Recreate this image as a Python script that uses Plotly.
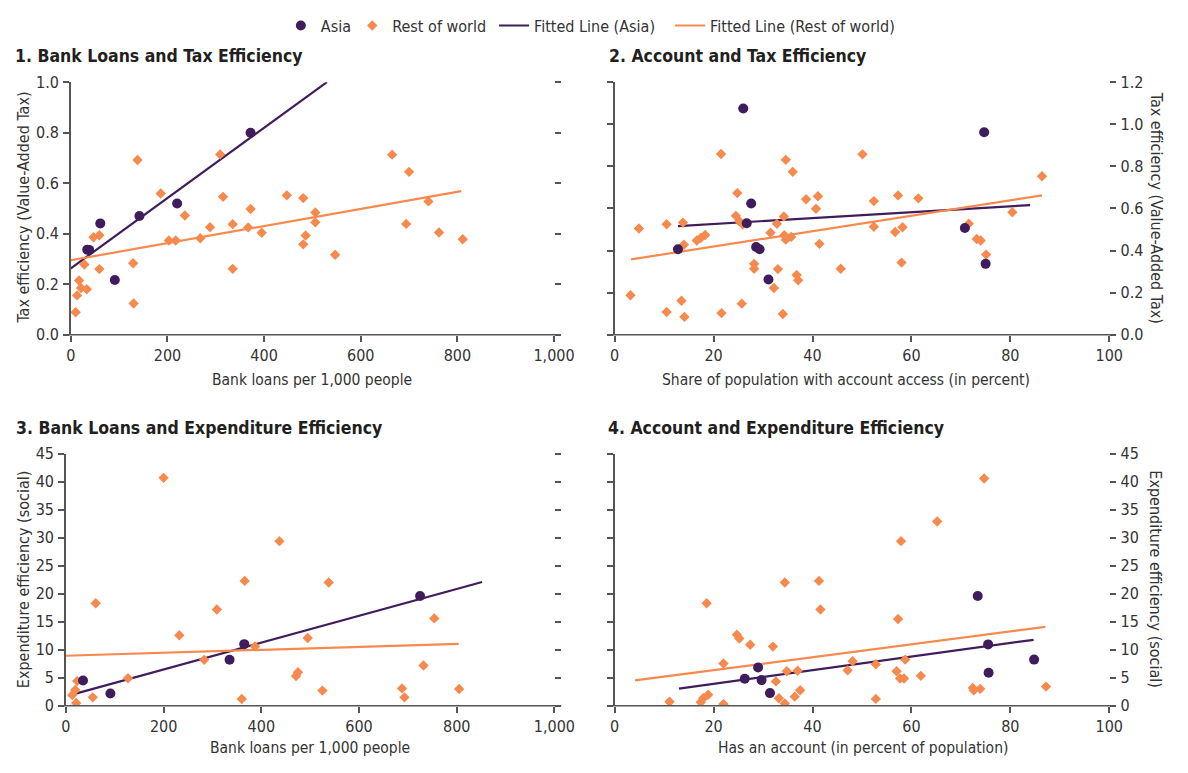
import plotly.graph_objects as go

W, H = 1188, 773
PURPLE = "#3f1d5c"
ORANGE = "#f68a4e"
AXIS = "#555555"
TEXT = "#231f20"
FONT = "Liberation Sans Narrow, DejaVu Sans Condensed, Roboto, sans-serif"

# ---- 1. Bank loans vs tax efficiency ----
p1_asia_x = [34, 38, 61, 142, 91, 220, 372]
p1_asia_y = [0.337, 0.336, 0.441, 0.470, 0.217, 0.520, 0.800]
p1_row_x = [10, 13, 17, 21, 28, 33, 47, 59, 59, 129, 130, 138, 186, 236, 203, 217,
            268, 288, 309, 315, 335, 335, 367, 372, 395, 447, 481, 481, 486, 506,
            506, 547, 665, 700, 740, 694, 762, 811]
p1_row_y = [0.089, 0.156, 0.215, 0.185, 0.278, 0.180, 0.386, 0.394, 0.260, 0.283,
            0.124, 0.692, 0.559, 0.472, 0.373, 0.373, 0.382, 0.426, 0.714, 0.546,
            0.438, 0.261, 0.425, 0.498, 0.404, 0.552, 0.541, 0.358, 0.393, 0.484,
            0.445, 0.317, 0.713, 0.645, 0.528, 0.439, 0.405, 0.378]
p1_fit_asia_x = [0, 530]
p1_fit_asia_y = [0.263, 1.0]
p1_fit_row_x = [0, 808]
p1_fit_row_y = [0.295, 0.569]

# ---- 2. Account access vs tax efficiency ----
p2_asia_x = [26.0, 27.6, 26.7, 12.8, 28.6, 29.3, 31.1, 74.7, 70.8, 75.0]
p2_asia_y = [1.075, 0.624, 0.530, 0.406, 0.417, 0.406, 0.263, 0.962, 0.507, 0.337]
p2_row_x = [3.2, 4.9, 10.5, 10.5, 13.5, 13.8, 14.0, 14.1, 16.6, 17.4, 18.3, 21.5,
            21.6, 24.8, 24.5, 25.2, 25.9, 25.7, 28.2, 28.2, 31.5, 32.2, 32.8, 33.0,
            34.0, 34.2, 34.3, 34.6, 34.6, 35.7, 36.0, 36.8, 37.1, 38.7, 40.7, 41.1,
            41.4, 45.7, 50.1, 52.4, 52.4, 57.3, 56.7, 58.2, 58.0, 61.4, 71.6, 73.2,
            74.0, 75.1, 80.4, 86.4]
p2_row_y = [0.188, 0.505, 0.525, 0.108, 0.162, 0.533, 0.428, 0.085, 0.448, 0.460,
            0.474, 0.859, 0.103, 0.673, 0.565, 0.539, 0.525, 0.148, 0.337, 0.314,
            0.485, 0.222, 0.527, 0.312, 0.099, 0.562, 0.473, 0.452, 0.831, 0.465,
            0.774, 0.284, 0.259, 0.644, 0.599, 0.658, 0.432, 0.314, 0.857, 0.635,
            0.513, 0.662, 0.488, 0.511, 0.343, 0.648, 0.528, 0.455, 0.448, 0.381,
            0.582, 0.753]
p2_fit_asia_x = [12.8, 84.0]
p2_fit_asia_y = [0.516, 0.616]
p2_fit_row_x = [3.3, 86.4]
p2_fit_row_y = [0.358, 0.662]

# ---- 3. Bank loans vs expenditure efficiency ----
p3_asia_x = [35, 91, 335, 365, 725]
p3_asia_y = [4.5, 2.2, 8.2, 11.0, 19.6]
p3_row_x = [13, 19, 21, 23, 55, 61, 127, 200, 232, 283, 309, 360, 366, 387, 437,
            471, 475, 495, 538, 525, 688, 693, 732, 754, 805]
p3_row_y = [1.9, 2.8, 0.5, 4.4, 1.5, 18.3, 4.9, 40.7, 12.6, 8.2, 17.2, 1.2, 22.3,
            10.6, 29.4, 5.3, 6.0, 12.1, 22.0, 2.7, 3.1, 1.5, 7.2, 15.6, 3.0]
p3_fit_asia_x = [5, 852]
p3_fit_asia_y = [1.8, 22.1]
p3_fit_row_x = [0, 804]
p3_fit_row_y = [8.93, 11.06]

# ---- 4. Account ownership vs expenditure efficiency ----
p4_asia_x = [29.0, 26.3, 29.7, 31.4, 73.4, 75.5, 75.6, 84.8]
p4_asia_y = [6.84, 4.81, 4.58, 2.26, 19.6, 10.96, 5.9, 8.24]
p4_row_x = [11.1, 17.4, 17.9, 18.9, 18.6, 22.0, 22.0, 24.7, 25.2, 27.4, 32.0, 32.6,
            33.2, 34.4, 34.4, 34.8, 36.4, 37.0, 37.5, 41.3, 41.6, 47.1, 48.1, 52.8,
            52.8, 74.7, 65.2, 57.9, 57.3, 58.75, 57.0, 57.7, 58.5, 61.9, 72.4, 72.6,
            73.9, 87.2]
p4_row_y = [0.7, 0.64, 1.33, 1.97, 18.3, 0.29, 7.54, 12.7, 12.0, 10.9, 10.56, 4.35,
            1.33, 22.0, 0.41, 6.15, 1.62, 6.26, 2.78, 22.3, 17.2, 6.32, 7.95, 7.42,
            1.22, 40.6, 32.9, 29.4, 15.5, 8.24, 6.15, 4.87, 4.87, 5.34, 3.19, 2.78,
            3.02, 3.42]
p4_fit_asia_x = [13.0, 84.7]
p4_fit_asia_y = [3.07, 11.78]
p4_fit_row_x = [4.1, 87.1]
p4_fit_row_y = [4.52, 14.1]

titles = ["1. Bank Loans and Tax Efficiency", "2. Account and Tax Efficiency",
          "3. Bank Loans and Expenditure Efficiency", "4. Account and Expenditure Efficiency"]
x_titles = ["Bank loans per 1,000 people",
            "Share of population with account access (in percent)",
            "Bank loans per 1,000 people",
            "Has an account (in percent of population)"]
y_titles = ["Tax efficiency (Value-Added Tax)", "Tax efficiency (Value-Added Tax)",
            "Expenditure efficiency (social)", "Expenditure efficiency (social)"]

legend_names = ["Asia", "Rest of world", "Fitted Line (Asia)", "Fitted Line (Rest of world)"]

panels = [
    dict(asia=(p1_asia_x, p1_asia_y), row=(p1_row_x, p1_row_y),
         fa=(p1_fit_asia_x, p1_fit_asia_y), fr=(p1_fit_row_x, p1_fit_row_y),
         box=(67.3, 561.3, 75, 334), xr=[0, 1000], xt=[0, 200, 400, 600, 800, 1000],
         yr=[0, 1.0], yt=[0, 0.2, 0.4, 0.6, 0.8, 1.0], yfmt=".1f", labels_left=True),
    dict(asia=(p2_asia_x, p2_asia_y), row=(p2_row_x, p2_row_y),
         fa=(p2_fit_asia_x, p2_fit_asia_y), fr=(p2_fit_row_x, p2_fit_row_y),
         box=(623.3, 1129, 75, 334), xr=[0, 100], xt=[0, 20, 40, 60, 80, 100],
         yr=[0, 1.2], yt=[0, 0.2, 0.4, 0.6, 0.8, 1.0, 1.2], yfmt=".1f", labels_left=False),
    dict(asia=(p3_asia_x, p3_asia_y), row=(p3_row_x, p3_row_y),
         fa=(p3_fit_asia_x, p3_fit_asia_y), fr=(p3_fit_row_x, p3_fit_row_y),
         box=(62.3, 561.7, 456, 714.3), xr=[0, 1000], xt=[0, 200, 400, 600, 800, 1000],
         yr=[0, 45], yt=list(range(0, 46, 5)), yfmt="d", labels_left=True),
    dict(asia=(p4_asia_x, p4_asia_y), row=(p4_row_x, p4_row_y),
         fa=(p4_fit_asia_x, p4_fit_asia_y), fr=(p4_fit_row_x, p4_fit_row_y),
         box=(623.3, 1129, 456, 714.3), xr=[0, 100], xt=[0, 20, 40, 60, 80, 100],
         yr=[0, 45], yt=list(range(0, 46, 5)), yfmt="d", labels_left=False),
]

title_pos = [(8, 48), (615, 48), (9, 430), (614, 430)]
xtitle_pos = [(314, 380), (860, 380), (312, 758), (877, 758)]
ytitle_pos = [(19, 204, -90), (1177, 204, 90), (19, 585, -90), (1176, 585, 90)]
# left edge (px) of each legend entry: Asia, Rest of world, fitted lines
legend_left = [282, 355, 500, 680]


def fx(px):
    return px / W


def fy(py):
    return 1 - py / H


fig = go.Figure()
layout = {}
shapes = []
annotations = []
tickfont = dict(family=FONT, size=16, color="#333333")
legend_ids = ["legend", "legend2", "legend3", "legend4"]

for i, p in enumerate(panels):
    n = i + 1
    xa = "x" if n == 1 else f"x{n}"
    yl_i, yr_i = 2 * n - 1, 2 * n
    yl = "y" if yl_i == 1 else f"y{yl_i}"
    yr = f"y{yr_i}"
    show = n == 1

    fig.add_trace(go.Scatter(x=p["fa"][0], y=p["fa"][1], mode="lines", xaxis=xa, yaxis=yl,
                             line=dict(color=PURPLE, width=2.2), name=legend_names[2],
                             showlegend=show, legend=legend_ids[2]))
    fig.add_trace(go.Scatter(x=p["fr"][0], y=p["fr"][1], mode="lines", xaxis=xa, yaxis=yl,
                             line=dict(color=ORANGE, width=2.2), name=legend_names[3],
                             showlegend=show, legend=legend_ids[3]))
    fig.add_trace(go.Scatter(x=p["row"][0], y=p["row"][1], mode="markers", xaxis=xa, yaxis=yl,
                             marker=dict(symbol="diamond", size=8, color=ORANGE),
                             name=legend_names[1], showlegend=show, legend=legend_ids[1]))
    fig.add_trace(go.Scatter(x=p["asia"][0], y=p["asia"][1], mode="markers", xaxis=xa, yaxis=yl,
                             marker=dict(symbol="circle", size=10, color=PURPLE),
                             name=legend_names[0], showlegend=show, legend=legend_ids[0]))
    # placeholder so the mirrored right-hand axis is drawn
    fig.add_trace(go.Scatter(x=[None], y=[None], xaxis=xa, yaxis=yr, showlegend=False,
                             hoverinfo="skip"))

    x0, x1, y0, y1 = p["box"]
    layout["xaxis" if n == 1 else f"xaxis{n}"] = dict(
        domain=[fx(x0), fx(x1)], range=p["xr"], tickvals=p["xt"], tickformat=",",
        anchor=yl, showline=False, showgrid=False, zeroline=False,
        ticks="outside", ticklen=6, tickwidth=1.5, tickcolor=AXIS, tickfont=tickfont,
        fixedrange=True)
    layout["yaxis" if yl_i == 1 else f"yaxis{yl_i}"] = dict(
        domain=[fy(y1), fy(y0)], range=p["yr"], tickvals=p["yt"], tickformat=p["yfmt"],
        anchor=xa, side="left", showline=True, linecolor=AXIS, linewidth=1.5,
        showgrid=False, zeroline=False, ticks="outside", ticklen=6, tickwidth=1.5,
        tickcolor=AXIS, showticklabels=p["labels_left"], tickfont=tickfont, ticklabelstandoff=1)
    layout[f"yaxis{yr_i}"] = dict(
        overlaying=yl, range=p["yr"], tickvals=p["yt"], tickformat=p["yfmt"],
        anchor=xa, side="right", showline=False, showgrid=False, zeroline=False,
        ticks="outside", ticklen=6, tickwidth=1.5, tickcolor=AXIS,
        showticklabels=not p["labels_left"], tickfont=tickfont, ticklabelstandoff=1)

    # bottom axis line, running slightly past both ends of the plot frame
    shapes.append(dict(type="line", xref="paper", yref="paper",
                       x0=fx(x0 - 7), x1=fx(x1 + 7), y0=fy(y1), y1=fy(y1),
                       line=dict(color=AXIS, width=1.5)))

    tx, ty = title_pos[i]
    annotations.append(dict(text=f"<b>{titles[i]}</b>", x=fx(tx), y=fy(ty), xref="paper",
                            yref="paper", xanchor="left", yanchor="middle", showarrow=False,
                            font=dict(family=FONT, size=17.5, color=TEXT)))
    ax, ay = xtitle_pos[i]
    annotations.append(dict(text=x_titles[i], x=fx(ax), y=fy(ay), xref="paper", yref="paper",
                            xanchor="center", yanchor="middle", showarrow=False,
                            font=dict(family=FONT, size=15.5, color="#333333")))
    vx, vy, ang = ytitle_pos[i]
    annotations.append(dict(text=y_titles[i], x=fx(vx), y=fy(vy), xref="paper", yref="paper",
                            xanchor="center", yanchor="middle", showarrow=False, textangle=ang,
                            font=dict(family=FONT, size=16, color="#333333")))

for lid, left in zip(legend_ids, legend_left):
    layout[lid] = dict(orientation="h", x=fx(left), xanchor="left", y=fy(17), yanchor="middle",
                       font=dict(family=FONT, size=16, color="#333333"), itemwidth=30,
                       bgcolor="rgba(0,0,0,0)", borderwidth=0)

fig.update_layout(
    width=W, height=H, margin=dict(l=0, r=0, t=0, b=0),
    paper_bgcolor="white", plot_bgcolor="white",
    font=dict(family=FONT, color=TEXT),
    showlegend=True,
    shapes=shapes, annotations=annotations, **layout)

fig.write_html("out.html")
